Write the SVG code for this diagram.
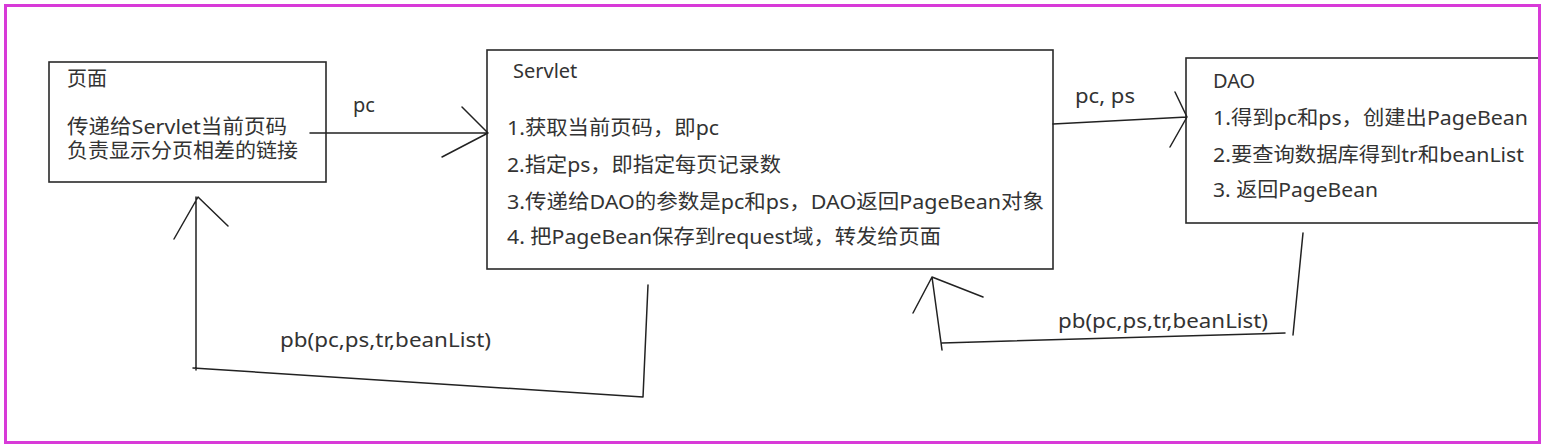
<svg xmlns="http://www.w3.org/2000/svg" width="1546" height="448" viewBox="0 0 1546 448">
<style>
.t{font-family:"Noto Sans","Noto Sans CJK SC",sans-serif;font-size:20px;fill:#333}
.box{fill:#fff;stroke:#2a2a2a;stroke-width:1.6}
.ln{fill:none;stroke:#222;stroke-width:1.5;stroke-linecap:round;stroke-linejoin:round}
</style>
<rect x="0" y="0" width="1546" height="448" fill="#fff"/>
<g id="page">
<rect class="box" x="49" y="62" width="277" height="120"/>
<text class="t" x="67" y="86">页面</text>
<text class="t" x="67" y="134" textLength="220" lengthAdjust="spacingAndGlyphs">传递给Servlet当前页码</text>
<text class="t" x="67" y="158" textLength="231" lengthAdjust="spacingAndGlyphs">负责显示分页相差的链接</text>
</g>
<g id="servlet">
<rect class="box" x="487" y="50" width="566" height="219"/>
<text class="t" x="513" y="78">Servlet</text>
<text class="t" x="507" y="135" textLength="212" lengthAdjust="spacingAndGlyphs">1.获取当前页码，即pc</text>
<text class="t" x="507" y="172" textLength="274" lengthAdjust="spacingAndGlyphs">2.指定ps，即指定每页记录数</text>
<text class="t" x="507" y="209" textLength="537" lengthAdjust="spacingAndGlyphs">3.传递给DAO的参数是pc和ps，DAO返回PageBean对象</text>
<text class="t" x="507" y="244" textLength="434" lengthAdjust="spacingAndGlyphs">4. 把PageBean保存到request域，转发给页面</text>
</g>
<g id="dao">
<rect class="box" x="1186" y="58" width="354" height="165"/>
<text class="t" x="1213" y="88">DAO</text>
<text class="t" x="1213" y="125" textLength="315" lengthAdjust="spacingAndGlyphs">1.得到pc和ps，创建出PageBean</text>
<text class="t" x="1213" y="162" textLength="311" lengthAdjust="spacingAndGlyphs">2.要查询数据库得到tr和beanList</text>
<text class="t" x="1213" y="197" textLength="165" lengthAdjust="spacingAndGlyphs">3. 返回PageBean</text>
</g>
<g id="connectors">
<path class="ln" d="M310 133 L488 133 M462 107 L488 133 L442 157"/>
<path class="ln" d="M1053 124 L1187 117 M1175 92 L1187 117 L1170 147"/>
<path class="ln" d="M648 285 L643 397 L193 368 M196 370 L196 197 M174 239 L198 197 L228 226"/>
<path class="ln" d="M1303 233 L1293 335 M1285 333 L942 343 M942 350 L932 277 M913 313 L932 277 L983 297"/>
<text class="t" x="353" y="112">pc</text>
<text class="t" x="1075" y="103" textLength="60" lengthAdjust="spacingAndGlyphs">pc, ps</text>
<text class="t" x="280" y="347" textLength="211" lengthAdjust="spacingAndGlyphs">pb(pc,ps,tr,beanList)</text>
<text class="t" x="1058" y="328" textLength="210" lengthAdjust="spacingAndGlyphs">pb(pc,ps,tr,beanList)</text>
</g>
<rect x="5.5" y="5.5" width="1534" height="437" fill="none" stroke="#d83ad8" stroke-width="3"/>
</svg>
